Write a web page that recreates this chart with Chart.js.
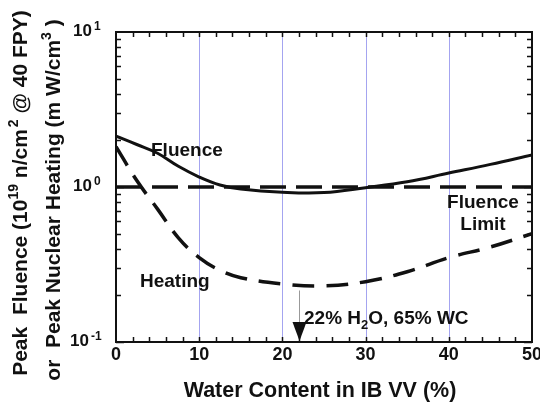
<!DOCTYPE html>
<html><head><meta charset="utf-8">
<script src="https://cdn.jsdelivr.net/npm/chart.js@4/dist/chart.umd.min.js"></script>
<style>html,body{margin:0;padding:0;background:#fff;}</style>
</head><body>
<canvas id="c" width="540" height="402"></canvas>
<script>
// Water content in the inboard vacuum vessel (%) and the computed peak quantities
const waterContent = [0, 2.5, 5, 7.5, 10, 12.5, 15, 20, 25, 30, 35, 40, 45, 50];
const peakFluence  = [2.13, 1.88, 1.65, 1.36, 1.16, 1.03, 0.97, 0.925, 0.92, 0.99, 1.08, 1.23, 1.40, 1.61];
const peakHeating  = [1.82, 1.10, 0.72, 0.47, 0.35, 0.29, 0.26, 0.237, 0.23, 0.245, 0.284, 0.35, 0.41, 0.50];
const limitX = [0, 50];
const fluenceLimit = [1.0, 1.0];
const xTickValues = [0, 10, 20, 30, 40, 50];
const xGridValues = [10, 20, 30, 40];
const yDecades = [-1, 0, 1];
const designWater = 22;

const FONT = '"Liberation Sans", Arial, Helvetica, sans-serif';
const INK = '#111';

function pts(xs, ys) { return xs.map((x, i) => ({x, y: ys[i]})); }

// Draw a run of text pieces, some raised (sup) or lowered (sub)
function richText(ctx, x, y, parts, size, raise = 0.42) {
  let cx = x;
  for (const p of parts) {
    const s = p.sup || p.sub ? Math.round(size * 0.68) : size;
    ctx.font = `bold ${s}px ${FONT}`;
    const dy = p.sup ? -size * raise : p.sub ? size * 0.28 : 0;
    cx += p.gap || 0;
    ctx.fillText(p.t, cx, y + dy);
    cx += ctx.measureText(p.t).width;
  }
  return cx - x;
}
function richWidth(ctx, parts, size) {
  let w = 0;
  for (const p of parts) {
    const s = p.sup || p.sub ? Math.round(size * 0.68) : size;
    ctx.font = `bold ${s}px ${FONT}`;
    w += ctx.measureText(p.t).width + (p.gap || 0);
  }
  return w;
}

// light vertical grid lines behind the curves
const gridLines = {
  id: 'gridLines',
  beforeDatasetsDraw(chart) {
    const {ctx, chartArea: a, scales: {x}} = chart;
    ctx.save();
    ctx.strokeStyle = '#a4a4f0';
    ctx.lineWidth = 1;
    ctx.beginPath();
    for (const v of xGridValues) {
      const px = Math.round(x.getPixelForValue(v)) + 0.5;
      ctx.moveTo(px, a.top); ctx.lineTo(px, a.bottom);
    }
    ctx.stroke();
    ctx.restore();
  }
};

const decorations = {
  id: 'decorations',
  afterDraw(chart) {
    const {ctx, chartArea: a, scales: {x, y}} = chart;
    ctx.save();
    ctx.fillStyle = INK; ctx.strokeStyle = INK;

    // frame
    ctx.lineWidth = 2;
    ctx.strokeRect(a.left, a.top, a.right - a.left, a.bottom - a.top);

    // x ticks (every 2 units), inside on bottom and top
    ctx.lineWidth = 1.5;
    ctx.beginPath();
    for (let v = 2; v < 50; v += 2) {
      const px = Math.round(x.getPixelForValue(v)) + 0.5;
      ctx.moveTo(px, a.bottom); ctx.lineTo(px, a.bottom - 5);
      ctx.moveTo(px, a.top); ctx.lineTo(px, a.top + 5);
    }
    // y ticks, log minor, inside on left and right
    for (const d of yDecades.slice(0, -1)) {
      for (let m = 1; m <= 9; m++) {
        const v = m * Math.pow(10, d);
        const py = Math.round(y.getPixelForValue(v)) + 0.5;
        const len = m === 1 ? 8 : 5;
        ctx.moveTo(a.left, py); ctx.lineTo(a.left + len, py);
        ctx.moveTo(a.right, py); ctx.lineTo(a.right - len, py);
      }
    }
    ctx.stroke();

    // x tick labels
    ctx.textBaseline = 'middle';
    ctx.textAlign = 'center';
    ctx.font = `bold 18px ${FONT}`;
    for (const v of xTickValues) {
      ctx.fillText(String(v), x.getPixelForValue(v), a.bottom + 13);
    }
    // y tick labels as powers of ten
    ctx.textAlign = 'left';
    for (const d of yDecades) {
      richText(ctx, d < 0 ? 70 : 73, y.getPixelForValue(Math.pow(10, d)) - 1,
        [{t: '10'}, {t: String(d), sup: true, gap: 2}], 17, 0.25);
    }

    // axis titles
    ctx.textBaseline = 'alphabetic';
    ctx.font = `bold 21.5px ${FONT}`;
    const xt = 'Water Content in IB VV (%)';
    ctx.fillText(xt, 320 - ctx.measureText(xt).width / 2, 397);

    const line1 = [{t: 'Peak  Fluence (10'}, {t: '19', sup: true}, {t: ' n/cm'}, {t: '2', sup: true, gap: 2}, {t: ' @ 40 FPY)'}];
    const line2 = [{t: 'or  Peak Nuclear Heating (m W/cm'}, {t: '3', sup: true}, {t: ' )'}];
    ctx.save();
    ctx.rotate(-Math.PI / 2);
    richText(ctx, -193 - richWidth(ctx, line1, 21) / 2, 27, line1, 21);
    richText(ctx, -200 - richWidth(ctx, line2, 21) / 2, 60, line2, 21);
    ctx.restore();

    // curve labels
    ctx.font = `bold 19px ${FONT}`;
    ctx.textAlign = 'left';
    ctx.fillText('Fluence', 151, 156);
    ctx.fillText('Heating', 140, 287);
    ctx.textAlign = 'center';
    ctx.fillText('Fluence', 483, 208);
    ctx.fillText('Limit', 483, 230);

    // design point marker
    const dx = Math.round(x.getPixelForValue(designWater)) + 0.5;
    ctx.strokeStyle = '#999';
    ctx.lineWidth = 1;
    ctx.beginPath();
    ctx.moveTo(dx, y.getPixelForValue(0.215));
    ctx.lineTo(dx, a.bottom - 18);
    ctx.stroke();
    ctx.fillStyle = INK;
    ctx.beginPath();
    ctx.moveTo(dx - 7, a.bottom - 20);
    ctx.lineTo(dx + 7, a.bottom - 20);
    ctx.lineTo(dx, a.bottom - 1);
    ctx.closePath();
    ctx.fill();
    ctx.textAlign = 'left';
    richText(ctx, 304, 324, [{t: '22% H'}, {t: '2', sub: true}, {t: 'O, 65% WC'}], 19);

    ctx.restore();
  }
};

new Chart(document.getElementById('c'), {
  type: 'line',
  data: {
    datasets: [
      { label: 'Fluence', data: pts(waterContent, peakFluence), borderColor: INK, borderWidth: 3,
        pointRadius: 0, tension: 0.4, fill: false },
      { label: 'Heating', data: pts(waterContent, peakHeating), borderColor: INK, borderWidth: 3.5,
        borderDash: [22, 12], pointRadius: 0, tension: 0.4, fill: false },
      { label: 'Fluence Limit', data: pts(limitX, fluenceLimit), borderColor: INK, borderWidth: 3.5,
        borderDash: [26, 10], pointRadius: 0, fill: false }
    ]
  },
  options: {
    responsive: false,
    animation: false,
    layout: { padding: { left: 116, right: 8, top: 32, bottom: 60 } },
    plugins: { legend: { display: false }, tooltip: { enabled: false } },
    scales: {
      x: {
        type: 'linear', min: 0, max: 50,
        ticks: { display: false },
        border: { display: false },
        grid: { display: false, drawTicks: false }
      },
      y: {
        type: 'logarithmic', min: 0.1, max: 10,
        ticks: { display: false },
        border: { display: false },
        grid: { display: false, drawTicks: false }
      }
    }
  },
  plugins: [gridLines, decorations]
});
</script>
</body></html>
